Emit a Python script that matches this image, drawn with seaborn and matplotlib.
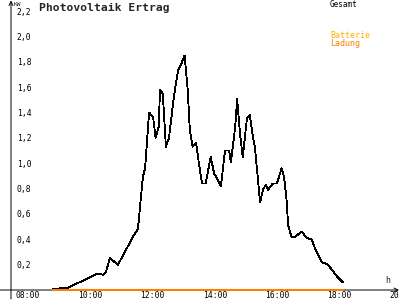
import matplotlib
matplotlib.use("Agg")
import matplotlib.pyplot as plt
import seaborn as sns
import pandas as pd

# ---- data ----
times = [9.19, 9.64, 9.99, 10.22, 10.38, 10.60, 10.80, 10.89, 11.02, 11.28, 11.83, 11.92,
         12.04, 12.08, 12.15, 12.28, 12.41, 12.49, 12.59, 12.63, 12.72, 12.82, 12.92, 13.05,
         13.14, 13.21, 13.31, 13.42, 13.52, 13.59, 13.68, 13.79, 13.88, 13.98, 14.10, 14.16,
         14.26, 14.37, 14.46, 14.59, 14.72, 14.85, 14.91, 15.05, 15.11, 15.20, 15.29, 15.43,
         15.52, 15.62, 15.68, 15.78, 15.85, 15.94, 16.03, 16.10, 16.26, 16.39, 16.54, 16.62,
         16.70, 16.75, 16.86, 16.97, 17.19, 17.35, 17.51, 17.61, 17.83, 18.03, 18.31, 18.51]
gesamt = [0.01, 0.015, 0.055, 0.08, 0.10, 0.13, 0.12, 0.14, 0.25, 0.20, 0.45, 0.48,
          0.79, 0.89, 0.96, 1.40, 1.36, 1.20, 1.29, 1.58, 1.55, 1.13, 1.20, 1.47,
          1.63, 1.73, 1.78, 1.85, 1.58, 1.26, 1.13, 1.16, 1.00, 0.84, 0.84, 0.92,
          1.05, 0.92, 0.88, 0.82, 1.10, 1.10, 1.01, 1.29, 1.51, 1.24, 1.05, 1.36,
          1.38, 1.20, 1.13, 0.87, 0.69, 0.79, 0.83, 0.79, 0.84, 0.84, 0.96, 0.89,
          0.71, 0.51, 0.42, 0.42, 0.46, 0.41, 0.40, 0.33, 0.22, 0.20, 0.11, 0.06]
batt_times = [9.19, 18.51]
batt_ladung = [0.0, 0.0]

x_ticks = [8, 10, 12, 14, 16, 18, 20]
x_labels = ["08:00", "10:00", "12:00", "14:00", "16:00", "18:00", "20:00"]
y_ticks = [0.2, 0.4, 0.6, 0.8, 1.0, 1.2, 1.4, 1.6, 1.8, 2.0, 2.2]
y_labels = ["0,2", "0,4", "0,6", "0,8", "1,0", "1,2", "1,4", "1,6", "1,8", "2,0", "2,2"]

title = "Photovoltaik Ertrag"
legend_labels = ["Gesamt", "Batterie", "Ladung"]

# ---- style ----
sns.set_style("white")
plt.rcParams["font.family"] = ["DejaVu Sans Mono", "DejaVu Sans"]
plt.rcParams["lines.antialiased"] = False

W, H = 400, 300
fig = plt.figure(figsize=(4, 3), dpi=100)
fig.patch.set_facecolor("white")
ax = fig.add_axes([0, 0, 1, 1])
ax.set_facecolor("white")

# pixel mapping: x = 16 + (t-8)*31.1 ; y = 290 - v*126.8
px_per_h = 31.1
px_per_kw = 126.8
ax.set_xlim(8 - 16 / px_per_h, 8 + (W - 16) / px_per_h)
ax.set_ylim(-(H - 290) / px_per_kw, 290 / px_per_kw)

df_g = pd.DataFrame({"t": times, "kw": gesamt})
df_b = pd.DataFrame({"t": batt_times, "kw": batt_ladung})
sns.lineplot(data=df_g, x="t", y="kw", ax=ax, color="black", lw=0.6,
             estimator=None, sort=False, antialiased=False)
sns.lineplot(data=df_b, x="t", y="kw", ax=ax, color="#ff8000", lw=1.1,
             estimator=None, sort=False, antialiased=False, zorder=5)

for s in ax.spines.values():
    s.set_visible(False)
ax.spines["left"].set_position(("data", 8 - 5 / px_per_h))
ax.spines["bottom"].set_position(("data", 0))

ax.set_xticks(x_ticks)
ax.set_xticklabels(x_labels)
ax.set_yticks(y_ticks)
ax.set_yticklabels(y_labels)
ax.tick_params(axis="both", direction="inout", length=4.5, width=0.7, color="black",
               labelsize=5.8, labelcolor="black")
ax.tick_params(axis="y", pad=-6.5)
ax.tick_params(axis="x", pad=-1.2)
for lab in ax.get_yticklabels():
    lab.set_horizontalalignment("left")
for lab in ax.get_xticklabels():
    lab.set_horizontalalignment("left")
ax.set_xlabel("")
ax.set_ylabel("")
ax.grid(False)

def fx(px):
    return px / W

def fy(py):
    return 1 - py / H

# axes lines with arrows
ax.annotate("", xy=(fx(11), fy(0.5)), xytext=(fx(11), fy(299)),
            xycoords="figure fraction", textcoords="figure fraction",
            arrowprops=dict(arrowstyle="->", lw=0.7, color="black",
                            shrinkA=0, shrinkB=0, mutation_scale=7))
ax.annotate("", xy=(fx(399), fy(290)), xytext=(fx(0), fy(290)),
            xycoords="figure fraction", textcoords="figure fraction",
            arrowprops=dict(arrowstyle="->", lw=0.7, color="black",
                            shrinkA=0, shrinkB=0, mutation_scale=7))

# texts
fig.text(fx(39), fy(7.5), title, fontsize=8.2, fontweight="bold", va="center", ha="left")
fig.text(fx(14), fy(4), "KW", fontsize=4.5, va="center", ha="left")
fig.text(fx(385), fy(280.5), "h", fontsize=6, va="center", ha="left")
fig.text(fx(330), fy(4.5), legend_labels[0], fontsize=5.5, va="center", ha="left",
         color="black")
fig.text(fx(330), fy(36), legend_labels[1], fontsize=6, va="center", ha="left",
         color="#ffb000")
fig.text(fx(330), fy(43.5), legend_labels[2], fontsize=6, va="center", ha="left",
         color="#ff8000")

fig.savefig("out.png", dpi=100, facecolor="white")
